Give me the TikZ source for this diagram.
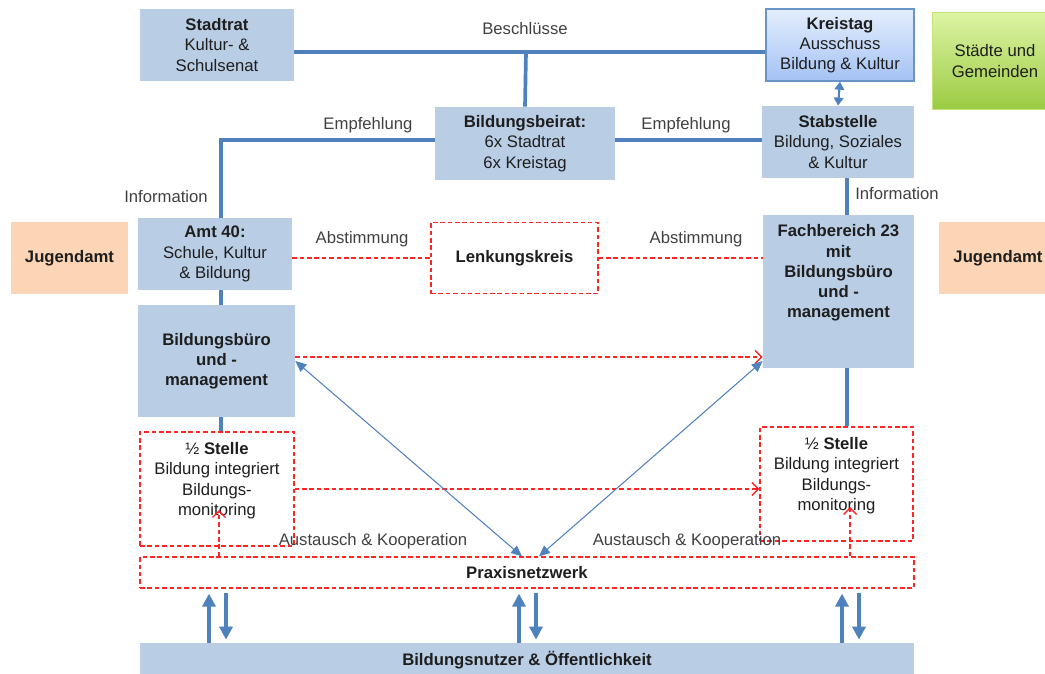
\documentclass[tikz,border=0pt]{standalone}
\usepackage{fontspec}
\setmainfont{Liberation Sans}
\usepackage{tikz}
\usetikzlibrary{arrows.meta}
\definecolor{boxblue}{HTML}{B9CDE5}
\definecolor{lineblue}{HTML}{4F81BD}
\definecolor{orangebox}{HTML}{FBD5B5}
\definecolor{dred}{HTML}{FF2525}
\definecolor{kttop}{HTML}{E4EEFD}
\definecolor{ktbot}{HTML}{A4C2F4}
\definecolor{gntop}{HTML}{DDF4A4}
\definecolor{gnbot}{HTML}{9BCB42}
\definecolor{txt}{HTML}{1E1E1E}
\newcommand{\fs}{\fontsize{9.5}{11.5}\selectfont}
\tikzset{
    sz/.style 2 args={minimum width=#1*0.02cm, minimum height=#2*0.02cm},
    basic/.style={inner sep=1pt, align=center, font=\fs, text=txt},
    box/.style={style=basic, fill=boxblue}, % light blue boxes
    jug/.style={style=basic, fill=orangebox, font=\fs\bfseries},
    dbox/.style={style=basic, draw=dred, line width=0.7pt, dash pattern=on 2.6pt off 1.6pt}, % dashed red boxes
    lbl/.style={font=\fs, text=txt!85, inner sep=1pt}, % edge labels
    bl/.style={draw=lineblue, line width=2.1pt}, % blue lines
    rdash/.style={draw=dred, line width=0.8pt, dash pattern=on 2.6pt off 1.6pt},
    rarr/.style={style=rdash, -{Straight Barb[length=1.3mm, width=2.6mm]}},
    ta/.style={draw=lineblue, line width=0.6pt, {Triangle[length=2.2mm, width=1.9mm]}-{Triangle[length=2.2mm, width=1.9mm]}},
    ka/.style={draw=lineblue, line width=1.2pt, {Triangle[length=1.6mm, width=1.9mm]}-{Triangle[length=1.6mm, width=1.9mm]}},
    ba/.style={draw=lineblue, line width=2.3pt, -{Triangle[length=2.6mm, width=2.6mm]}}
}

\begin{document}
\begin{tikzpicture}[x=0.02cm, y=-0.02cm]
  \useasboundingbox (0,0) rectangle (1045,673);

  % boxes
  \node[box, sz={154}{72}] (stadtrat) at (217,45) {\textbf{Stadtrat}\\ Kultur- \&\\ Schulsenat};
  \node[basic, sz={148}{72}, top color=kttop, bottom color=ktbot, draw=lineblue!85, line width=0.8pt] (kreistag) at (840,45) {\textbf{Kreistag}\\ Ausschuss\\ Bildung \& Kultur};
  \node[basic, sz={126}{97}, top color=gntop, bottom color=gnbot, draw=gntop!60!gnbot, line width=0.5pt] (staedte) at (995,61) {Städte und\\ Gemeinden};
  \node[box, sz={180}{73}] (beirat) at (525,143.5) {\textbf{Bildungsbeirat:}\\ 6x Stadtrat\\ 6x Kreistag};
  \node[box, sz={152}{72}] (stab) at (838,142) {\textbf{Stabstelle}\\ Bildung, Soziales\\ \& Kultur};
  \node[jug, sz={117}{72}] (jugL) at (69.5,258) {Jugendamt};
  \node[jug, sz={118}{72}] (jugR) at (998,258) {Jugendamt};
  \node[box, sz={154}{72}] (amt) at (215,254) {\textbf{Amt 40:}\\ Schule, Kultur\\ \& Bildung};
  \node[dbox, sz={167}{71}, font=\fs\bfseries] (lenk) at (514.5,258) {Lenkungskreis};
  \node[box, sz={151}{153}, font=\fs\bfseries] (fach) at (838.5,291.5) {Fachbereich 23\\ mit\\ Bildungsbüro\\ und -\\ management\\ \mbox{}\\ \mbox{}};
  \node[box, sz={157}{112}, font=\fs\bfseries] (buero) at (216.5,361) {Bildungsbüro\\ und -\\ management};
  \node[dbox, sz={154}{114}] (halfL) at (217,489) {½ \textbf{Stelle}\\ Bildung integriert\\ Bildungs-\\ monitoring\\ \mbox{}};
  \node[dbox, sz={153}{114}] (halfR) at (836.5,484) {½ \textbf{Stelle}\\ Bildung integriert\\ Bildungs-\\ monitoring\\ \mbox{}};
  \node[dbox, sz={774}{31}, font=\fs\bfseries] (praxis) at (527,572.5) {Praxisnetzwerk};
  \node[box, sz={774}{34}, font=\fs\bfseries] (nutzer) at (527,660) {Bildungsnutzer \& Öffentlichkeit};

  % labels
  \node[lbl] (lbesch) at (525,29) {Beschlüsse};
  \node[lbl] (lempL) at (368,125) {Empfehlung};
  \node[lbl] (lempR) at (686,125) {Empfehlung};
  \node[lbl] (linfL) at (166,197) {Information};
  \node[lbl] (linfR) at (897,194) {Information};
  \node[lbl] (labsL) at (362,239) {Abstimmung};
  \node[lbl] (labsR) at (696,239) {Abstimmung};
  \node[lbl] (lausL) at (373,541) {Austausch \& Kooperation};
  \node[lbl] (lausR) at (687,541) {Austausch \& Kooperation};

  % helper coordinates
  \coordinate (besch) at (526,52);
  \coordinate (emp) at (221,140);
  \coordinate (inf) at (847,0);
  \coordinate (monL) at (219,510);
  \coordinate (monR) at (850,507);
  \foreach \x [count=\i] in {209,519,842} {
    \coordinate (pu\i) at (\x,600);
    \coordinate (pd\i) at (\x+17,600);
  }

  % blue lines
  \draw[bl] ([yshift=-0.14cm]stadtrat.east) -- ([yshift=-0.14cm]kreistag.west);
  \draw[bl] (besch) -- (beirat.north);
  \draw[bl] (beirat.west |- emp) -- (emp) -- (amt.north -| emp);
  \draw[bl] (beirat.east |- emp) -- (stab.west |- emp);
  \draw[bl] (stab.south -| inf) -- (fach.north -| inf);
  \draw[bl] (fach.south -| inf) -- (halfR.north -| inf);
  \draw[bl] (amt.south -| emp) -- (buero.north -| emp);
  \draw[bl] (buero.south -| emp) -- (halfL.north -| emp);
  \draw[ka] (kreistag.south) -- (stab.north);

  % red dashed
  \draw[rdash] (amt.east |- lenk.west) -- (lenk.west);
  \draw[rdash] (lenk.east) -- (lenk.east -| fach.west);
  \draw[rarr] ([yshift=0.08cm]buero.east) -- ([yshift=0.08cm]buero.east -| fach.west);
  \draw[rarr] (halfL.east) -- (halfL.east -| halfR.west);
  \draw[rarr] (praxis.north -| monL) -- (monL);
  \draw[rarr] (praxis.north -| monR) -- (monR);

  % exchange arrows
  \draw[ta] (buero.east) -- ([xshift=-0.1cm]praxis.north);
  \draw[ta] (fach.west |- buero.east) -- ([xshift=0.24cm]praxis.north);

  % arrows to the public
  \foreach \i in {1,2,3} {
    \draw[ba, shorten >=0.1cm] (nutzer.north -| pu\i) -- (praxis.south -| pu\i);
    \draw[ba, shorten <=0.08cm, shorten >=0.06cm] (praxis.south -| pd\i) -- (nutzer.north -| pd\i);
  }
\end{tikzpicture}
\end{document}
